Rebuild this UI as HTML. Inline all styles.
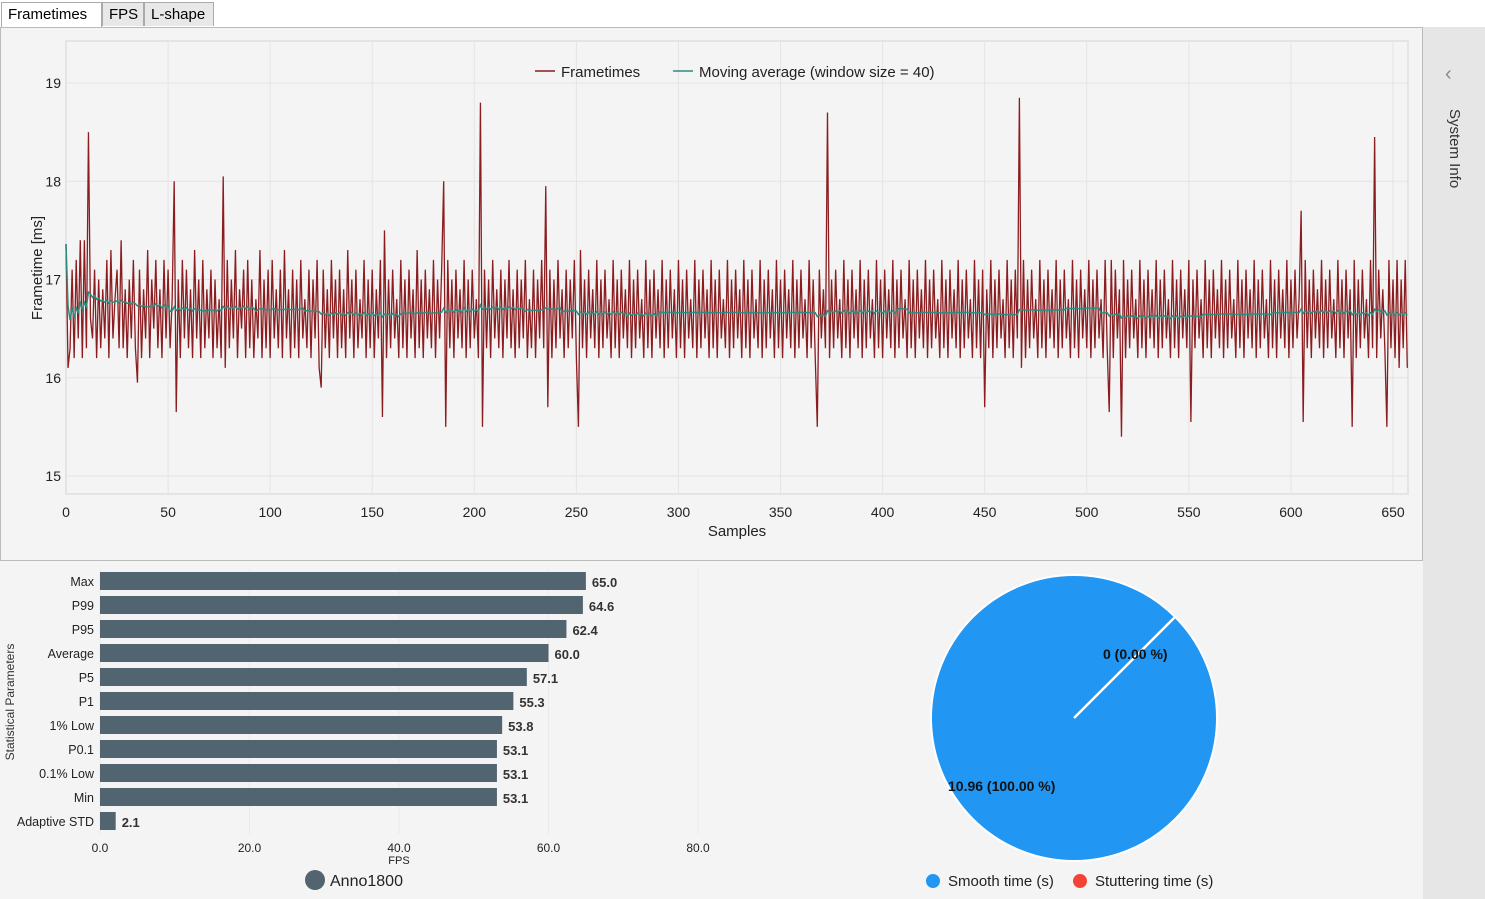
<!DOCTYPE html>
<html><head><meta charset="utf-8">
<style>
body{margin:0;width:1485px;height:899px;background:#f4f4f4;font-family:"Liberation Sans",sans-serif;overflow:hidden;position:relative}
.tab{position:absolute;top:2px;height:24px;border:1px solid #aaa;border-bottom:none;background:#e8e8e8;font-size:15px;line-height:24px;padding:0 6px;box-sizing:border-box}
svg text{font-family:"Liberation Sans",sans-serif}
</style></head><body>
<div style="position:absolute;left:0;top:0;width:1485px;height:27px;background:#fff"></div>
<div class="tab" style="left:1px;width:101px;background:#fff;height:26px">Frametimes</div>
<div class="tab" style="left:102px;width:42px">FPS</div>
<div class="tab" style="left:144px;width:70px">L-shape</div>
<div style="position:absolute;left:0;top:27px;width:1423px;height:534px;border:1px solid #bbb;box-sizing:border-box;background:#f4f4f4"></div>
<div style="position:absolute;left:1423px;top:27px;width:62px;height:872px;background:#e6e6e6">
<div style="position:absolute;left:22px;top:36px;color:#888;font-size:20px">&#8249;</div>
<div style="position:absolute;left:40px;top:82px;transform:rotate(90deg);transform-origin:0 0;font-size:15px;color:#333;white-space:nowrap">System Info</div>
</div>
<svg id="ft" width="1423" height="560" style="position:absolute;left:0;top:0"></svg>
<svg id="bars" width="720" height="899" style="position:absolute;left:0;top:0"></svg>
<svg id="pie" width="1423" height="899" style="position:absolute;left:0;top:0"></svg>
<script>
const frametimes=[
17.36,16.1,16.3,17.1,16.2,17.2,16.4,17.4,16.2,17.4,
16.3,18.5,16.6,16.4,17.1,16.2,17.0,16.3,16.9,16.4,
17.2,16.2,17.3,16.4,16.8,17.1,16.3,17.4,16.3,16.9,
16.2,17.0,16.4,17.2,16.3,15.95,17.1,16.2,16.9,16.4,
17.3,16.2,17.0,16.5,17.2,16.3,16.9,16.2,17.2,16.4,
17.1,16.3,16.8,18.0,15.65,17.0,16.2,17.2,16.4,17.1,
16.3,16.9,16.2,17.3,16.4,17.0,16.2,17.2,16.3,16.9,
16.4,17.1,16.2,17.0,16.3,16.8,16.2,18.05,16.1,17.2,
16.3,17.0,16.4,17.3,16.2,16.9,16.5,17.1,16.2,17.2,
16.3,17.0,16.2,16.8,16.4,17.3,16.2,17.0,16.3,17.1,
16.2,17.2,16.4,16.9,16.3,17.1,16.2,17.3,16.4,16.9,
16.2,17.1,16.3,17.0,16.2,17.2,16.4,16.8,16.3,17.1,
16.2,17.0,16.4,17.2,16.1,15.9,17.1,16.3,16.9,16.2,
17.2,16.4,17.0,16.2,17.1,16.3,16.9,16.2,17.3,16.4,
17.0,16.2,17.1,16.3,16.8,16.4,17.2,16.2,17.0,16.3,
17.1,16.2,16.9,16.4,17.2,15.6,17.5,16.2,17.0,16.3,
17.1,16.4,16.8,16.2,17.2,16.3,17.0,16.2,17.1,16.4,
16.9,16.2,17.3,16.3,17.0,16.2,17.1,16.4,16.9,16.3,
17.2,16.2,17.0,16.4,17.1,18.0,15.5,17.2,16.3,17.0,
16.2,17.1,16.4,16.9,16.3,17.2,16.2,17.0,16.3,17.1,
16.4,16.8,16.2,18.8,15.5,17.1,16.3,17.0,16.2,17.2,
16.4,16.9,16.3,17.1,16.2,17.0,16.4,17.2,16.3,16.9,
16.2,17.1,16.3,17.0,16.4,17.2,16.2,16.8,16.3,17.1,
16.2,17.0,16.4,17.2,16.3,17.95,15.7,17.1,16.2,17.0,
16.3,17.2,16.4,16.9,16.2,17.1,16.3,17.0,16.4,17.2,
16.2,15.5,17.3,16.3,17.0,16.2,17.1,16.4,16.9,16.3,
17.2,16.2,17.0,16.3,17.1,16.4,16.8,16.2,17.2,16.3,
17.0,16.2,17.1,16.4,16.9,16.3,17.2,16.2,17.0,16.3,
17.1,16.4,16.8,16.2,17.2,16.3,17.0,16.2,17.1,16.4,
16.9,16.3,17.2,16.2,17.0,16.3,17.1,16.4,16.9,16.2,
17.2,16.3,17.0,16.2,17.1,16.4,16.8,16.3,17.2,16.2,
17.0,16.3,17.1,16.4,16.9,16.2,17.2,16.3,17.0,16.2,
17.1,16.4,16.8,16.3,17.2,16.2,17.0,16.3,17.1,16.4,
16.9,16.2,17.2,16.3,17.0,16.2,17.1,16.4,16.8,16.3,
17.2,16.2,17.0,16.3,17.1,16.4,16.9,16.2,17.2,16.3,
17.0,16.2,17.1,16.4,16.9,16.3,17.2,16.2,17.0,16.3,
17.1,16.4,16.8,16.2,17.2,16.3,17.0,16.2,15.5,17.1,
16.4,16.9,16.3,18.7,16.2,17.0,16.3,17.1,16.4,16.8,
16.2,17.2,16.3,17.0,16.2,17.1,16.4,16.9,16.3,17.2,
16.2,17.0,16.3,17.1,16.4,16.8,16.2,17.2,16.3,17.0,
16.2,17.1,16.4,16.9,16.3,17.2,16.2,17.0,16.3,17.1,
16.4,16.8,16.2,17.2,16.3,17.0,16.2,17.1,16.4,16.9,
16.3,17.2,16.2,17.0,16.3,17.1,16.4,16.8,16.2,17.2,
16.3,17.0,16.2,17.1,16.4,16.9,16.3,17.2,16.2,17.0,
16.3,17.1,16.4,16.8,16.2,17.2,16.3,17.0,16.2,17.1,
15.7,16.9,16.3,17.2,16.2,17.0,16.3,17.1,16.4,16.8,
16.2,17.2,16.3,17.0,16.2,17.1,16.4,18.85,16.1,17.2,
16.2,17.0,16.3,17.1,16.4,16.8,16.2,17.2,16.3,17.0,
16.2,17.1,16.4,16.9,16.3,17.2,16.2,17.0,16.3,17.1,
16.4,16.8,16.2,17.2,16.3,17.0,16.2,17.1,16.4,16.9,
16.3,17.2,16.2,17.0,16.3,17.1,16.4,16.8,16.2,17.2,
16.3,15.65,17.2,16.2,17.1,16.4,16.9,15.4,17.2,16.2,
17.0,16.3,17.1,16.4,16.8,16.2,17.2,16.3,17.0,16.2,
17.1,16.4,16.9,16.3,17.2,16.2,17.0,16.3,17.1,16.4,
16.8,16.2,17.2,16.3,17.0,16.2,17.1,16.4,16.9,16.3,
17.2,15.55,17.0,16.3,17.1,16.4,16.8,16.2,17.2,16.3,
17.0,16.2,17.1,16.4,16.9,16.3,17.2,16.2,17.0,16.3,
17.1,16.4,16.8,16.2,17.2,16.3,17.0,16.2,17.1,16.4,
16.9,16.3,17.2,16.2,17.0,16.3,17.1,16.4,16.8,16.2,
17.2,16.3,17.0,16.2,17.1,16.4,16.9,16.3,17.2,16.2,
17.0,16.3,17.1,16.4,16.8,17.7,15.55,17.2,16.3,17.0,
16.2,17.1,16.4,16.9,16.3,17.2,16.2,17.0,16.3,17.1,
16.4,16.8,16.2,17.2,16.3,17.0,16.2,17.1,16.4,16.9,
15.5,17.2,16.2,17.0,16.3,17.1,16.4,16.8,16.2,17.2,
16.3,18.45,16.2,17.1,16.4,16.9,16.3,15.5,17.2,16.3,
17.0,16.2,17.2,16.1,17.0,16.3,17.2,16.1];
const xTicks=[0,50,100,150,200,250,300,350,400,450,500,550,600,650];
const yTicks=[15,16,17,18,19];
const categories=["Max","P99","P95","Average","P5","P1","1% Low","P0.1","0.1% Low","Min","Adaptive STD"];
const fpsValues=[65.0,64.6,62.4,60.0,57.1,55.3,53.8,53.1,53.1,53.1,2.1];
const barTicks=[0,20,40,60,80];
const pieLabels=["Smooth time (s)","Stuttering time (s)"];
const pieValues=[10.96,0];

const NS="http://www.w3.org/2000/svg";
function mk(p,t,a,txt){const e=document.createElementNS(NS,t);for(const k in a)e.setAttribute(k,a[k]);if(txt!==undefined)e.textContent=txt;p.appendChild(e);return e;}

// Frametime chart
const ft=document.getElementById('ft');
const X=v=>66+v*(1393-66)/650, Y=v=>476-(v-15)*(476-83)/4;
mk(ft,'rect',{x:66,y:41,width:1342,height:453,fill:'#f4f4f4',stroke:'#e4e4e4','stroke-width':2});
xTicks.forEach(t=>{const g=mk(ft,'line',{x1:X(t),x2:X(t),y1:41,y2:494,stroke:'#e4e4e4'});
const l=mk(ft,'text',{x:X(t),y:517,'text-anchor':'middle','font-size':14,fill:'#222'},t);});
yTicks.forEach(t=>{const g=mk(ft,'line',{x1:66,x2:1408,y1:Y(t),y2:Y(t),stroke:'#e4e4e4'});
const l=mk(ft,'text',{x:61,y:Y(t)+5,'text-anchor':'end','font-size':14,fill:'#222'},t);});
let e=mk(ft,'text',{x:737,y:536,'text-anchor':'middle','font-size':15,fill:'#222'},'Samples');
e=mk(ft,'text',{x:0,y:0,transform:'translate(42,268) rotate(-90)','text-anchor':'middle','font-size':15,fill:'#222'},'Frametime [ms]');
e=mk(ft,'polyline',{points:frametimes.map((v,i)=>X(i)+','+Y(v)).join(' '),fill:'none',stroke:'#8b1c1f','stroke-width':1.3});
const ma=frametimes.map((v,i)=>{const s=frametimes.slice(Math.max(0,i-39),i+1);return s.reduce((a,b)=>a+b,0)/s.length;});
e=mk(ft,'polyline',{points:ma.map((v,i)=>X(i)+','+Y(v)).join(' '),fill:'none',stroke:'#2e8b7d','stroke-width':1.5});
e=mk(ft,'line',{x1:535,x2:555,y1:71,y2:71,stroke:'#8b1c1f','stroke-width':1.5});
e=mk(ft,'text',{x:561,y:77,'font-size':15,fill:'#222'},'Frametimes');
e=mk(ft,'line',{x1:673,x2:693,y1:71,y2:71,stroke:'#2e8b7d','stroke-width':1.5});
e=mk(ft,'text',{x:699,y:77,'font-size':15,fill:'#222'},'Moving average (window size = 40)');

// Bar chart
const bs=document.getElementById('bars');
const BX=v=>100+v*(698-100)/80;
barTicks.forEach(t=>{const g=mk(bs,'line',{x1:BX(t),x2:BX(t),y1:569,y2:834,stroke:'#eaeaea'});
const l=mk(bs,'text',{x:BX(t),y:852,'text-anchor':'middle','font-size':12,fill:'#222'},t.toFixed(1));});
categories.forEach((c,i)=>{const cy=581+i*24;
const r=mk(bs,'rect',{x:100,y:cy-9,width:BX(fpsValues[i])-100,height:18,fill:'#52646f'});
const l=mk(bs,'text',{x:94,y:cy+5,'text-anchor':'end','font-size':12.5,fill:'#222'},c);
const v=mk(bs,'text',{x:BX(fpsValues[i])+6,y:cy+6,'font-size':13,'font-weight':'bold',fill:'#333'},fpsValues[i].toFixed(1));});
e=mk(bs,'text',{x:399,y:864,'text-anchor':'middle','font-size':11,fill:'#222'},'FPS');
e=mk(bs,'text',{x:0,y:0,transform:'translate(14,702) rotate(-90)','text-anchor':'middle','font-size':12,fill:'#333'},'Statistical Parameters');
e=mk(bs,'circle',{cx:315,cy:880,r:10,fill:'#52646f'});
e=mk(bs,'text',{x:330,y:886,'font-size':16,fill:'#222'},'Anno1800');

// Pie
const ps=document.getElementById('pie');
const cx=1074,cy=718,R=143,tot=pieValues.reduce((a,b)=>a+b,0);
const colors=['#2196f3','#f44336'];
let ang=-Math.PI/4;
pieValues.forEach((v,i)=>{const frac=v/tot;if(frac<=0)return;
let s;if(frac>=0.9999){s=mk(ps,'circle',{cx:cx,cy:cy,r:R,fill:colors[i],stroke:'#fff','stroke-width':2});}
else{const a2=ang+frac*2*Math.PI;s=mk(ps,'path',{d:`M${cx},${cy}L${cx+R*Math.cos(ang)},${cy+R*Math.sin(ang)}A${R},${R} 0 ${frac>0.5?1:0} 1 ${cx+R*Math.cos(a2)},${cy+R*Math.sin(a2)}Z`,fill:colors[i],stroke:'#fff','stroke-width':2});ang=a2;}
});
e=mk(ps,'line',{x1:cx,y1:cy,x2:cx+R*Math.cos(-Math.PI/4),y2:cy+R*Math.sin(-Math.PI/4),stroke:'#fff','stroke-width':2.5});
e=mk(ps,'text',{x:1103,y:659,'font-size':14,'font-weight':'bold',fill:'#111'},pieValues[1]+' ('+(pieValues[1]/tot*100).toFixed(2)+' %)');
e=mk(ps,'text',{x:948,y:791,'font-size':14,'font-weight':'bold',fill:'#111'},pieValues[0].toFixed(2)+' ('+(pieValues[0]/tot*100).toFixed(2)+' %)');
const lx=[933,1080];
pieLabels.forEach((l,i)=>{let c=mk(ps,'circle',{cx:lx[i],cy:881,r:7,fill:colors[i]});
let t=mk(ps,'text',{x:lx[i]+15,y:886,'font-size':15,fill:'#222'},l);});
</script>
</body></html>
